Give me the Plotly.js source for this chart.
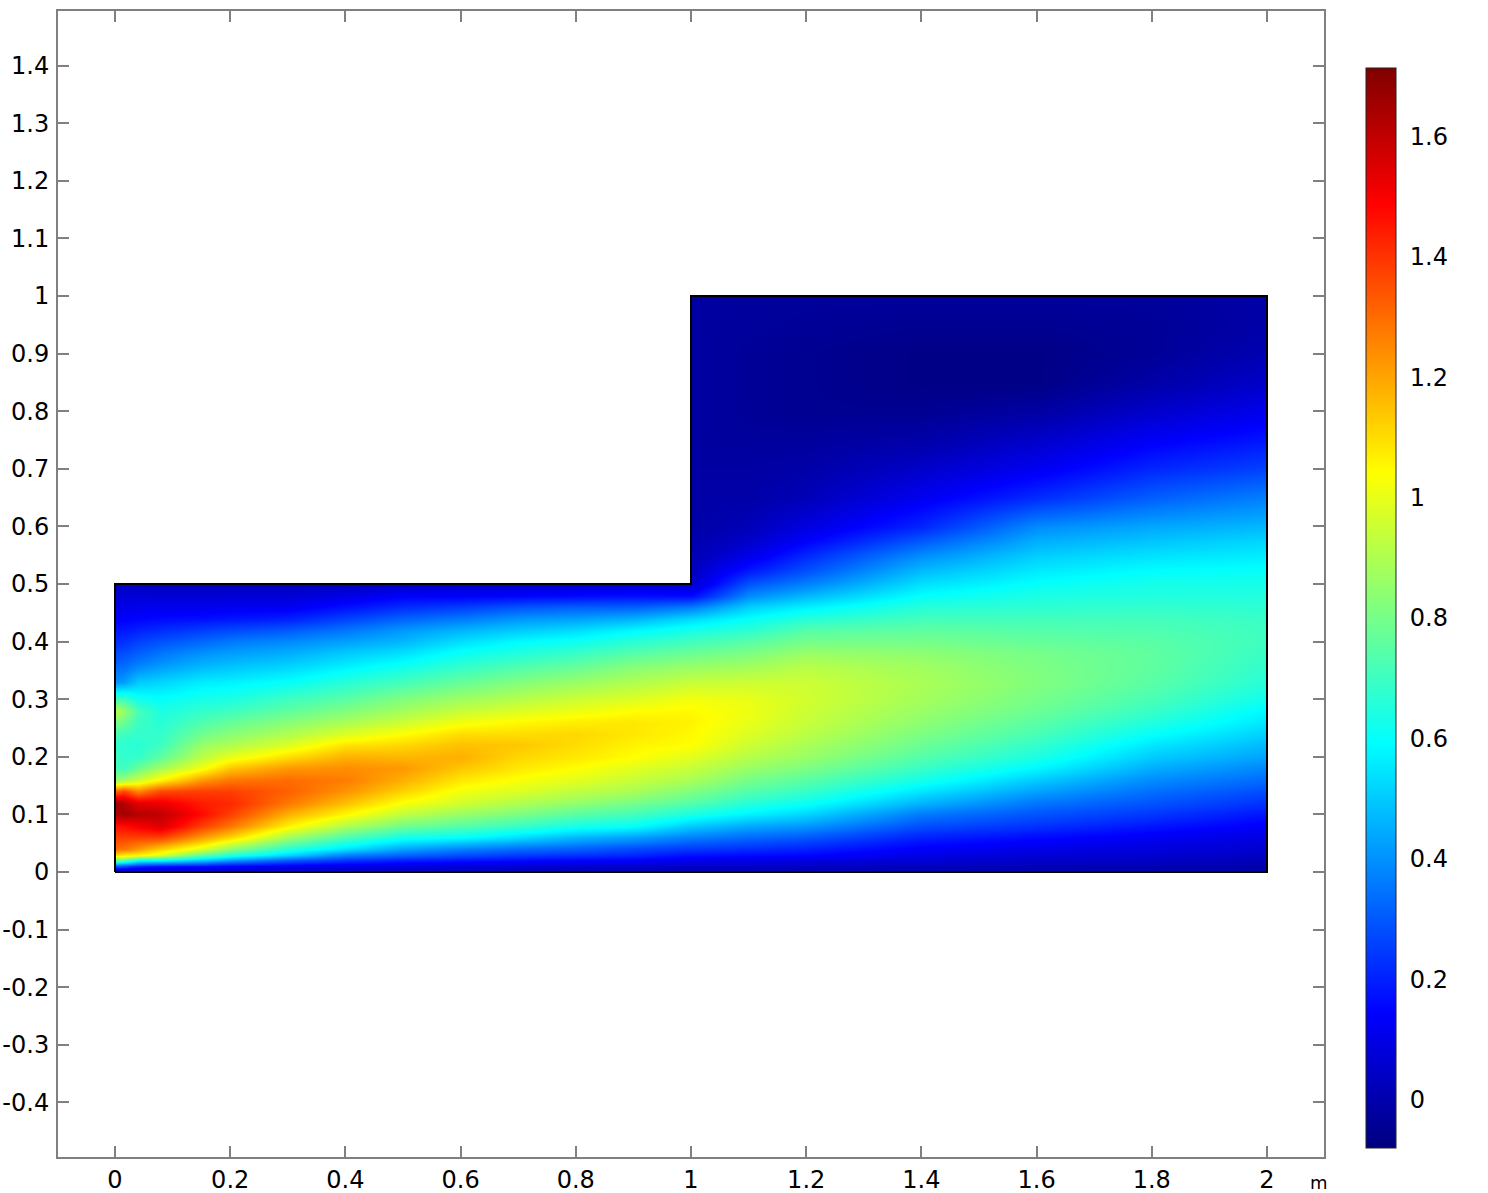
<!DOCTYPE html>
<html>
<head>
<meta charset="utf-8">
<script src="https://cdn.plot.ly/plotly-3.0.1.min.js"></script>
<style>html, body { margin: 0; padding: 0; background: white; }</style>
</head>
<body>
<div id="plot" style="width:1488px;height:1193px"></div>
<script>
var xTicks = [0, 0.2, 0.4, 0.6, 0.8, 1, 1.2, 1.4, 1.6, 1.8, 2];
var xLabels = ['0', '0.2', '0.4', '0.6', '0.8', '1', '1.2', '1.4', '1.6', '1.8', '2'];
var yTicks = [-0.4, -0.3, -0.2, -0.1, 0, 0.1, 0.2, 0.3, 0.4, 0.5, 0.6, 0.7, 0.8, 0.9, 1, 1.1, 1.2, 1.3, 1.4];
var yLabels = ['-0.4', '-0.3', '-0.2', '-0.1', '0', '0.1', '0.2', '0.3', '0.4', '0.5', '0.6', '0.7', '0.8', '0.9', '1', '1.1', '1.2', '1.3', '1.4'];
var barTicks = [0, 0.2, 0.4, 0.6, 0.8, 1, 1.2, 1.4, 1.6];
var barLabels = ['0', '0.2', '0.4', '0.6', '0.8', '1', '1.2', '1.4', '1.6'];
var zMin = -0.081;
var zMax = 1.713;

// domain outline
var outlineX = [0, 2, 2, 1, 1, 0, 0];
var outlineY = [0, 0, 1, 1, 0.5, 0.5, 0];

// lower part of the domain, y from 0 to 0.5, one list per x column
var lowerX = [0, 0.015, 0.04, 0.08, 0.15, 0.2, 0.3, 0.4, 0.5, 0.6, 0.7, 0.8, 0.9, 1, 1.1, 1.2, 1.4, 1.6, 1.8, 2];
var lowerY = [0, 0.005, 0.01, 0.02, 0.03, 0.04, 0.06, 0.08, 0.1, 0.12, 0.14, 0.16, 0.18, 0.2, 0.22, 0.24, 0.26, 0.28, 0.3, 0.33, 0.36, 0.38, 0.4, 0.42, 0.44, 0.46, 0.48, 0.5];
var lowerZ = [
	[.05, .12, .30, .80, 1.10, 1.30, 1.38, 1.46, 1.62, 1.68, 1.30, .85, .72, .70, .68, .72, .82, .92, .72, .40, .32, .27, .22, .18, .14, .10, .07, .04],
	[.04, .11, .28, .76, 1.08, 1.28, 1.38, 1.47, 1.65, 1.62, 1.36, .88, .70, .68, .67, .70, .78, .86, .70, .42, .33, .28, .23, .18, .14, .10, .07, .04],
	[.05, .10, .22, .62, 1.06, 1.22, 1.38, 1.50, 1.62, 1.54, 1.25, .95, .78, .68, .66, .68, .70, .72, .62, .50, .37, .31, .26, .20, .15, .11, .07, .04],
	[.05, .09, .18, .60, .98, 1.12, 1.38, 1.55, 1.60, 1.52, 1.36, 1.06, .88, .76, .70, .68, .66, .64, .60, .52, .41, .35, .29, .22, .16, .11, .07, .03],
	[.05, .09, .17, .50, .76, .98, 1.22, 1.38, 1.47, 1.44, 1.38, 1.22, 1.02, .92, .86, .79, .73, .68, .63, .56, .46, .40, .33, .25, .17, .11, .07, .03],
	[.04, .08, .15, .42, .66, .84, 1.12, 1.28, 1.38, 1.42, 1.38, 1.28, 1.14, 1.00, .90, .83, .77, .70, .64, .57, .48, .42, .36, .27, .18, .12, .07, .03],
	[.03, .07, .12, .31, .52, .66, .88, 1.06, 1.18, 1.28, 1.32, 1.30, 1.22, 1.10, .98, .90, .83, .76, .70, .60, .51, .45, .39, .30, .20, .12, .07, .03],
	[.03, .06, .10, .24, .37, .54, .73, .90, 1.05, 1.15, 1.23, 1.27, 1.24, 1.18, 1.09, .98, .89, .82, .75, .66, .56, .50, .43, .35, .26, .17, .10, .03],
	[.03, .05, .09, .20, .32, .43, .63, .79, .93, 1.03, 1.12, 1.18, 1.22, 1.17, 1.11, 1.04, .95, .88, .82, .71, .61, .54, .47, .41, .32, .22, .14, .04],
	[.02, .05, .08, .18, .28, .37, .60, .74, .86, .96, 1.02, 1.08, 1.14, 1.18, 1.15, 1.10, 1.02, .94, .87, .77, .67, .61, .54, .46, .36, .25, .14, .05],
	[.02, .04, .07, .16, .25, .33, .54, .69, .81, .90, .98, 1.03, 1.08, 1.11, 1.14, 1.10, 1.05, .98, .91, .82, .72, .65, .59, .50, .41, .29, .15, .05],
	[.01, .03, .06, .15, .23, .31, .47, .63, .75, .85, .93, .99, 1.04, 1.08, 1.10, 1.11, 1.07, 1.01, .95, .86, .76, .69, .62, .53, .43, .31, .16, .06],
	[.01, .03, .05, .14, .21, .27, .43, .60, .71, .80, .89, .94, .99, 1.04, 1.06, 1.08, 1.08, 1.04, .98, .90, .82, .74, .67, .58, .46, .31, .17, .07],
	[.01, .02, .05, .11, .17, .24, .37, .50, .64, .74, .82, .89, .94, .99, 1.04, 1.05, 1.06, 1.05, 1.02, .94, .85, .78, .71, .63, .53, .36, .16, .06],
	[.01, .02, .05, .10, .16, .22, .33, .44, .57, .66, .74, .80, .86, .91, .95, .98, 1.00, 1.01, 1.00, .95, .87, .81, .75, .67, .60, .51, .39, .29],
	[.01, .02, .04, .09, .15, .20, .30, .41, .52, .61, .69, .75, .81, .86, .89, .92, .94, .95, .96, .95, .91, .86, .80, .74, .66, .57, .47, .37],
	[0, .01, .03, .07, .10, .13, .20, .28, .36, .46, .55, .63, .69, .74, .78, .81, .84, .86, .88, .89, .87, .84, .80, .76, .71, .66, .60, .54],
	[-.01, 0, .02, .05, .07, .10, .16, .23, .29, .35, .43, .50, .58, .64, .68, .72, .75, .78, .80, .82, .81, .80, .77, .74, .71, .67, .64, .60],
	[-.01, 0, .01, .04, .06, .08, .12, .18, .24, .29, .34, .39, .45, .50, .55, .60, .65, .69, .72, .75, .76, .76, .75, .73, .71, .68, .65, .63],
	[-.02, -.01, 0, .02, .04, .06, .09, .13, .18, .23, .28, .33, .38, .43, .47, .51, .55, .58, .62, .66, .68, .69, .70, .70, .69, .67, .65, .63]
];

// upper part, x from 1 to 2, y from 0.5 to 1
var upperX = [1, 1.05, 1.1, 1.2, 1.4, 1.6, 1.8, 2];
var upperY = [0.5, 0.525, 0.55, 0.575, 0.6, 0.65, 0.7, 0.75, 0.8, 0.85, 0.9, 0.95, 1];
var upperZ = [
	[.06, .02, .01, 0, -.01, -.015, -.02, -.02, -.02, -.02, -.02, -.02, -.02],
	[.175, .11, .05, .02, 0, -.01, -.02, -.03, -.03, -.03, -.03, -.03, -.02],
	[.29, .18, .10, .05, .02, -.01, -.02, -.03, -.04, -.04, -.04, -.03, -.03],
	[.37, .28, .21, .14, .09, .02, -.01, -.03, -.05, -.05, -.05, -.04, -.03],
	[.54, .47, .39, .30, .21, .12, .05, -.01, -.05, -.07, -.07, -.05, -.03],
	[.60, .555, .505, .45, .39, .22, .12, .05, -.02, -.07, -.07, -.05, -.03],
	[.63, .59, .54, .49, .44, .31, .21, .13, .05, -.01, -.04, -.04, -.03],
	[.63, .60, .56, .52, .47, .37, .26, .18, .11, .05, .01, -.01, -.01]
];

var jet = [[0, '#000080'], [0.125, '#0000ff'], [0.375, '#00ffff'], [0.625, '#ffff00'], [0.875, '#ff0000'], [1, '#800000']];

// a heatmap brick reaches half a cell past its outer centres, so keep the outer cells very thin
function padAxis(a) {
	var e = 0.0005;
	return [a[0], a[0] + e].concat(a.slice(1, -1), [a[a.length - 1] - e, a[a.length - 1]]);
}
function padList(a) {
	return [a[0]].concat(a, [a[a.length - 1]]);
}
function padGrid(z) {
	return padList(z).map(padList);
}

// the lower image runs just under the upper one, or white shows through at the seam
var lowerYPadded = padAxis(lowerY);
lowerYPadded[lowerYPadded.length - 1] = 0.501;

var axisGray = '#808080';
var font = { family: 'DejaVu Sans', size: 24, color: 'black' };

var lowerTrace = {
	type: 'heatmap', x: padAxis(lowerX), y: lowerYPadded, z: padGrid(lowerZ), transpose: true,
	zsmooth: 'best', zmin: zMin, zmax: zMax, colorscale: jet, hoverinfo: 'skip',
	colorbar: {
		thicknessmode: 'pixels', thickness: 30, lenmode: 'pixels', len: 1080,
		x: (1366 - 58) / 1266, xanchor: 'left', xpad: 0, y: (1157 - 608.3) / 1146, yanchor: 'middle', ypad: 0,
		outlinecolor: '#222', outlinewidth: 1,
		tickmode: 'array', tickvals: barTicks, ticktext: barLabels,
		ticks: 'outside', ticklen: 9, tickcolor: 'rgba(0,0,0,0)', tickfont: font
	}
};
var upperTrace = {
	type: 'heatmap', x: padAxis(upperX), y: padAxis(upperY), z: padGrid(upperZ), transpose: true,
	zsmooth: 'best', zmin: zMin, zmax: zMax, colorscale: jet, showscale: false, hoverinfo: 'skip'
};
var outlineTrace = {
	type: 'scatter', mode: 'lines', x: outlineX, y: outlineY,
	line: { color: 'black', width: 2 }, hoverinfo: 'skip', showlegend: false
};

// colour bar tick marks on both sides of the bar
var barShapes = [];
barTicks.forEach(function (v) {
	var py = 1148.3 - (v - zMin) / (zMax - zMin) * 1080;
	[[1366, 1372], [1390, 1396]].forEach(function (s) {
		barShapes.push({
			type: 'line', xref: 'paper', yref: 'paper',
			x0: (s[0] - 58) / 1266, x1: (s[1] - 58) / 1266,
			y0: (1157 - py) / 1146, y1: (1157 - py) / 1146,
			line: { color: 'rgba(0,0,0,0.55)', width: 1 }
		});
	});
});

function axis(range, vals, text, standoff) {
	return {
		range: range, tickmode: 'array', tickvals: vals, ticktext: text,
		ticks: 'inside', ticklen: 11, tickwidth: 2, tickcolor: axisGray,
		showline: true, linecolor: axisGray, linewidth: 2, mirror: 'ticks',
		showgrid: false, zeroline: false, tickfont: font, tickangle: 0, automargin: false,
		ticklabelstandoff: standoff
	};
}

var layout = {
	width: 1488, height: 1193,
	margin: { l: 58, r: 164, t: 11, b: 36, pad: 0 },
	paper_bgcolor: 'white', plot_bgcolor: 'white',
	showlegend: false,
	xaxis: axis([-0.09896, 2.09896], xTicks, xLabels, 0),
	yaxis: axis([-0.4948, 1.4948], yTicks, yLabels, 2),
	shapes: barShapes,
	annotations: [{
		text: 'm', xref: 'paper', yref: 'paper', x: (1319 - 58) / 1266, y: (1157 - 1182.5) / 1146,
		xanchor: 'center', yanchor: 'middle', showarrow: false,
		font: { family: 'DejaVu Sans', size: 18, color: 'black' }
	}]
};

Plotly.newPlot('plot', [lowerTrace, upperTrace, outlineTrace], layout, { displayModeBar: false, responsive: false });
</script>
</body>
</html>
